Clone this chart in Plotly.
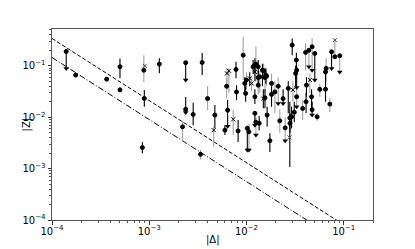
import numpy as np
import plotly.graph_objects as go

# ---- data: |Delta|, |Z|, lower/upper end of bar, marker, bar colour, limit flag ----
dx = [1.4e-4, 1.75e-4, 3.65e-4, 5.0e-4, 5.0e-4, 8.8e-4, 8.9e-4, 1.27e-3, 2.37e-3, 3.5e-3,
      3.98e-3, 2.37e-3, 2.83e-3, 2.2e-3, 4.73e-3, 4.6e-3, 8.5e-4, 3.37e-3, 6.0e-3, 6.4e-3,
      6.25e-3, 6.3e-3, 6.6e-3, 7.8e-3, 7.9e-3, 8.2e-3, 7.3e-3, 9.25e-3, 9.6e-3, 9.8e-3,
      1.02e-2, 1.06e-2, 1.22e-2, 1.22e-2, 1.25e-2, 1.32e-2, 1.32e-2, 1.35e-2, 1.17e-2, 1.25e-2,
      1.46e-2, 1.37e-2, 1.55e-2, 1.61e-2, 1.55e-2, 1.63e-2, 1.74e-2, 1.81e-2, 1.81e-2, 1.96e-2,
      2.12e-2, 2.38e-2, 2.69e-2, 2.79e-2, 2.8e-2, 2.91e-2, 2.95e-2, 3.0e-2, 3.26e-2, 3.2e-2,
      3.28e-2, 3.28e-2, 3.78e-2, 4.05e-2, 4.14e-2, 4.1e-2, 4.38e-2, 4.73e-2, 5.04e-2, 4.48e-2,
      4.67e-2, 5.33e-2, 4.73e-2, 5.68e-2, 6.5e-2, 6.6e-2, 6.5e-2, 7.2e-2, 7.5e-2, 8.1e-2,
      9.1e-2, 1.0e-2, 1.08e-2, 1.13e-2, 1.22e-2, 1.22e-2, 1.32e-2, 1.49e-2, 1.5e-2, 1.58e-2,
      2.2e-2, 2.5e-2, 3.1e-2]
dz = [0.19, 0.066, 0.055, 0.096, 0.034, 0.082, 0.0232, 0.108, 0.115, 0.116,
      0.023, 0.0142, 0.0113, 0.0065, 0.011, 0.0056, 0.00257, 0.0019, 0.0056, 0.0137,
      0.040, 0.071, 0.080, 0.085, 0.031, 0.0054, 0.0091, 0.161, 0.0455, 0.029,
      0.0061, 0.0052, 0.025, 0.0119, 0.008, 0.042, 0.096, 0.0076, 0.096, 0.108,
      0.082, 0.061, 0.059, 0.063, 0.0238, 0.011, 0.00348, 0.0455, 0.0278, 0.031,
      0.040, 0.023, 0.0363, 0.0097, 0.0076, 0.0102, 0.253, 0.034, 0.129, 0.071,
      0.082, 0.025, 0.0148, 0.182, 0.042, 0.020, 0.20, 0.234, 0.174, 0.053,
      0.025, 0.0102, 0.014, 0.0348, 0.076, 0.089, 0.035, 0.018, 0.187, 0.15,
      0.157, 0.053, 0.057, 0.0455, 0.103, 0.076, 0.059, 0.023, 0.080, 0.066,
      0.0085, 0.0062, 0.0125]
zlo = [0.089, 0.062, 0.051, 0.057, 0.031, 0.049, 0.0159, 0.072, 0.053, 0.066,
       0.0137, 0.0124, 0.0070, 0.0033, 0.0061, 0.00265, 0.0020, 0.0015, 0.0045, 0.0067,
       0.0235, 0.035, 0.030, 0.057, 0.0215, 0.0033, 0.0045, 0.053, 0.030, 0.020,
       0.0023, 0.0023, 0.018, 0.007, 0.0045, 0.028, 0.070, 0.0055, 0.070, 0.050,
       0.040, 0.030, 0.030, 0.040, 0.015, 0.0065, 0.0021, 0.025, 0.016, 0.012,
       0.0185, 0.0185, 0.012, 0.00107, 0.005, 0.006, 0.161, 0.020, 0.082, 0.040,
       0.038, 0.0159, 0.0088, 0.082, 0.025, 0.012, 0.096, 0.082, 0.053, 0.030,
       0.015, 0.0085, 0.011, 0.025, 0.040, 0.050, 0.020, 0.0126, 0.089, 0.15,
       0.076, 0.035, 0.040, 0.032, 0.075, 0.050, 0.040, 0.015, 0.055, 0.045,
       0.005, 0.0035, 0.008]
zhi = [0.19, 0.071, 0.059, 0.139, 0.038, 0.161, 0.0337, 0.141, 0.115, 0.177,
       0.040, 0.0246, 0.019, 0.0084, 0.0172, 0.0065, 0.0033, 0.0023, 0.0070, 0.0215,
       0.058, 0.090, 0.090, 0.12, 0.042, 0.0088, 0.014, 0.366, 0.060, 0.040,
       0.0061, 0.0075, 0.035, 0.0119, 0.010, 0.060, 0.13, 0.0105, 0.13, 0.234,
       0.11, 0.080, 0.090, 0.080, 0.035, 0.016, 0.0049, 0.070, 0.040, 0.050,
       0.060, 0.035, 0.050, 0.020, 0.012, 0.016, 0.34, 0.050, 0.18, 0.10,
       0.10, 0.035, 0.0215, 0.273, 0.060, 0.030, 0.20, 0.34, 0.174, 0.070,
       0.035, 0.012, 0.020, 0.045, 0.10, 0.14, 0.050, 0.0235, 0.187, 0.316,
       0.157, 0.075, 0.075, 0.060, 0.14, 0.10, 0.080, 0.035, 0.11, 0.090,
       0.014, 0.010, 0.020]
mk = list("ooooooooooooooox"
          "oooooxxooox"
          "ooooooooooooooooooooooooooooo"
          "oxoooooooooooxoooo"
          "oooooooox"
          "xoxoxooo"
          "ooo")
bar = list("kkkkkgkkkkgkkgkgkgkkgggkkkggkkkgkkggkkkgkgggkkkgkggkkkkkkgkkkgggkkggkgkgkgkgkgkgg"
           "gkgkkkkgkg" "gkg")
lim = [1, 0, 0, 0, 0, 0, 0, 0, 1, 0,
       0, 1, 0, 0, 0, 0, 0, 0, 0, 1,
       0, 0, 0, 0, 0, 0, 0, 0, 0, 0,
       1, 1, 0, 1, 1, 0, 0, 0, 0, 0,
       0, 0, 0, 0, 0, 0, 0, 0, 0, 0,
       1, 1, 0, 0, 0, 0, 0, 0, 0, 0,
       1, 1, 0, 0, 0, 0, 1, 1, 1, 0,
       0, 0, 1, 0, 0, 0, 0, 0, 1, 0,
       1, 0, 0, 0, 0, 0, 0, 0, 0, 0,
       0, 1, 0]
# extra cross markers at the upper end of some grey bars
cx = [9.0e-4, 2.77e-2, 8.1e-2]
cz = [0.10, 0.00405, 0.316]

# reference lines (values at the two ends of the |Delta| range)
line_x = [1e-4, 0.2]
dashed_z = [0.34, 3.5e-5]
dashdot_z = [0.145, 1.5e-5]

xtick_vals = [1e-4, 1e-3, 1e-2, 1e-1]
xtick_text = ["10<sup>\u22124</sup>", "10<sup>\u22123</sup>", "10<sup>\u22122</sup>", "10<sup>\u22121</sup>"]
ytick_vals = [1e-4, 1e-3, 1e-2, 1e-1]
ytick_text = xtick_text

n = min(len(dx), len(dz), len(zlo), len(zhi))
mk = (mk + ["o"] * n)[:n]
bar = (bar + ["k"] * n)[:n]
lim = (lim + [0] * n)[:n]
dx, dz, zlo, zhi = [np.array(a[:n], dtype=float) for a in (dx, dz, zlo, zhi)]

fig = go.Figure()

for line_z, dash in ((dashed_z, "4px,2px"), (dashdot_z, "6px,2px,1px,2px")):
    fig.add_trace(go.Scatter(x=line_x, y=line_z, mode="lines",
                             line=dict(color="black", width=1, dash=dash),
                             hoverinfo="skip", showlegend=False))

symmap = {"o": "circle", "x": "x-thin"}
for c, colr in (("g", "#a0a0a0"), ("k", "black")):
    idx = [i for i in range(n) if bar[i] == c]
    fig.add_trace(go.Scatter(
        x=dx[idx], y=dz[idx], mode="markers",
        marker=dict(symbol=[symmap[mk[i]] for i in idx], size=4,
                    color="black", opacity=1, line=dict(color="black", width=1)),
        error_y=dict(type="data", symmetric=False,
                     array=(zhi - dz)[idx], arrayminus=(dz - zlo)[idx],
                     color=colr, thickness=1.1, width=0),
        showlegend=False))

li = [i for i in range(n) if lim[i]]
fig.add_trace(go.Scatter(x=dx[li], y=zlo[li], mode="markers",
                         marker=dict(symbol="triangle-down", size=5, color="black", opacity=1),
                         showlegend=False))
fig.add_trace(go.Scatter(x=cx, y=cz, mode="markers",
                         marker=dict(symbol="x-thin", size=4, color="black", opacity=1,
                                     line=dict(color="#444", width=1)),
                         showlegend=False))

font = dict(family="DejaVu Sans", size=10, color="black")
axis_common = dict(type="log", showgrid=False, zeroline=False, showline=True,
                   linecolor="#555", linewidth=1, mirror=True, ticks="outside",
                   ticklen=3.5, tickwidth=0.8, tickcolor="#333", tickfont=font,
                   automargin=False,
                   minor=dict(ticks="outside", ticklen=2, tickwidth=0.6,
                              tickcolor="#555", dtick="D1", showgrid=False))
fig.update_xaxes(range=[-4, np.log10(0.2)], tickvals=xtick_vals, ticktext=xtick_text,
                 ticklabelstandoff=-2, **axis_common)
fig.update_yaxes(range=[-4, np.log10(0.52)], tickvals=ytick_vals, ticktext=ytick_text,
                 **axis_common)
fig.update_layout(width=415, height=249, margin=dict(l=52, r=42, t=29, b=29),
                  plot_bgcolor="white", paper_bgcolor="white", font=font)
fig.add_annotation(text="|\u0394|", xref="paper", yref="paper", x=0.5, y=-0.105,
                   xanchor="center", yanchor="middle", showarrow=False,
                   font=dict(family="DejaVu Sans", size=10, color="black"))
fig.add_annotation(text="|Z|", xref="paper", yref="paper", x=-0.078, y=0.5,
                   xanchor="center", yanchor="middle", textangle=-90, showarrow=False,
                   font=dict(family="DejaVu Sans", size=10, color="black"))
fig.write_html("out.html", config={"displayModeBar": False},
               post_script="document.body.style.margin='0';")
